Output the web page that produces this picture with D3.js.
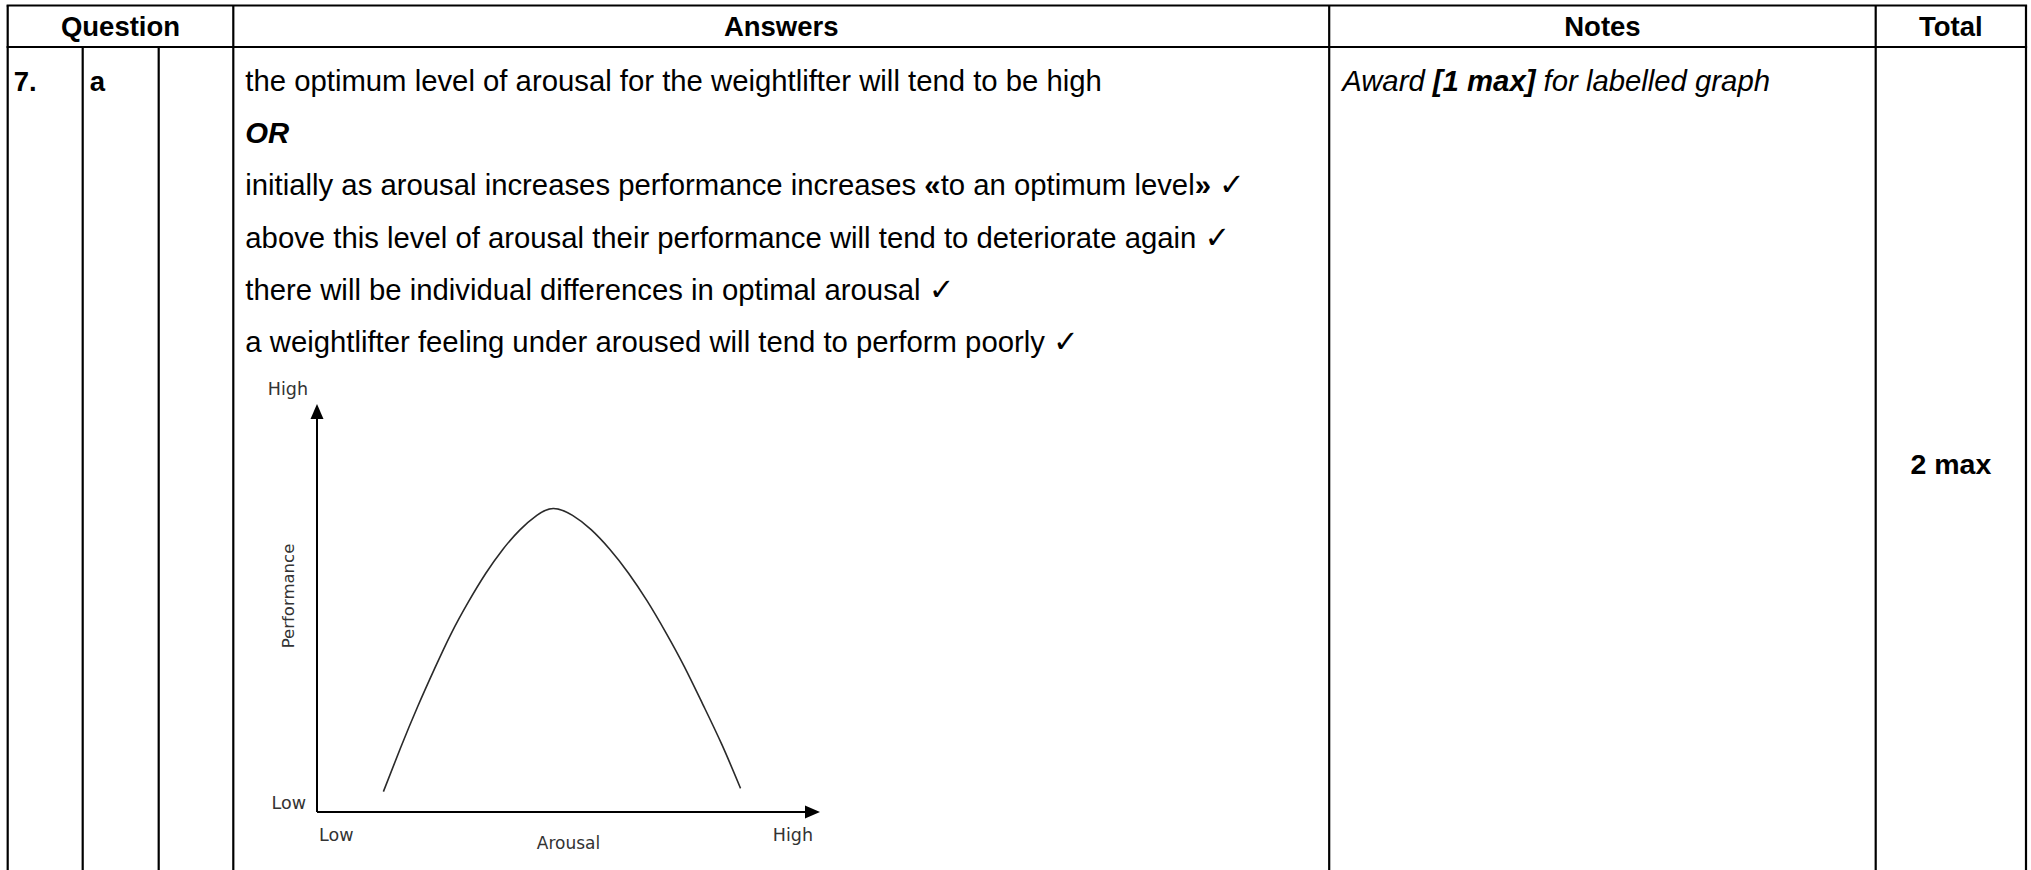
<!DOCTYPE html>
<html>
<head>
<meta charset="utf-8">
<script src="https://cdn.jsdelivr.net/npm/d3@7"></script>
<style>
    body { margin: 0; background: #fff; }
    svg { display: block; }
</style>
</head>
<body>
<script>

// table contents
const headers = ["Question", "Answers", "Notes", "Total"];
const questionNumber = "7.";
const questionPart = "a";
const answerLines = [
    "the optimum level of arousal for the weightlifter will tend to be high",
    "OR",
    "initially as arousal increases performance increases «to an optimum level» ✓",
    "above this level of arousal their performance will tend to deteriorate again ✓",
    "there will be individual differences in optimal arousal ✓",
    "a weightlifter feeling under aroused will tend to perform poorly ✓",
];
const noteText = "Award [1 max] for labelled graph";
const totalText = "2 max";

// inverted-U sketch (0..100 on both axes)
const arousal = [13.2, 16.6, 20.0, 23.4, 26.7, 30.1, 33.5, 36.9, 40.3, 43.7, 47.0,
    50.8, 54.5, 58.2, 61.9, 65.6, 69.3, 73.0, 76.7, 80.5, 84.2];
const performance = [5.0, 15.7, 25.8, 35.2, 43.8, 51.5, 58.4, 64.3, 69.1, 72.7, 74.4,
    72.7, 69.2, 64.4, 58.6, 51.8, 44.1, 35.7, 26.4, 16.5, 5.8];
const axisEnds = ["Low", "High"];
const axisTitles = ["Arousal", "Performance"];

const width = 2031;
const height = 870;

const font = "Arial, 'Liberation Sans', sans-serif";
const headSize = 27.5;
const bodySize = 29.3;

const svg = d3.select(document.body).append("svg")
    .attr("width", width)
    .attr("height", height);

svg.append("rect")
    .attr("width", width)
    .attr("height", height)
    .attr("fill", "#fff");

// column edges
const cols = {
    left: 7.7,
    q1: 82.7,
    q2: 158.7,
    answers: 233.3,
    notes: 1329.2,
    total: 1875.7,
    right: 2026,
};
const rows = {
    top: 5.5,
    header: 47,
};

const grid = svg.append("g")
    .attr("stroke", "#000")
    .attr("stroke-width", 2.2);

// horizontal rules
[rows.top, rows.header].forEach(y => {
    grid.append("line")
        .attr("x1", cols.left - 1.1).attr("x2", cols.right + 1.1)
        .attr("y1", y).attr("y2", y);
});

// vertical rules
[cols.left, cols.answers, cols.notes, cols.total, cols.right].forEach(x => {
    grid.append("line")
        .attr("x1", x).attr("x2", x)
        .attr("y1", rows.top).attr("y2", height + 2);
});
[cols.q1, cols.q2].forEach(x => {
    grid.append("line")
        .attr("x1", x).attr("x2", x)
        .attr("y1", rows.header).attr("y2", height + 2);
});

// header row
const headerCenters = [
    (cols.left + cols.answers) / 2,
    (cols.answers + cols.notes) / 2,
    (cols.notes + cols.total) / 2,
    (cols.total + cols.right) / 2,
];
svg.append("g")
    .selectAll("text")
    .data(headers)
    .join("text")
    .attr("x", (d, i) => headerCenters[i])
    .attr("y", 36)
    .attr("text-anchor", "middle")
    .attr("font-family", font)
    .attr("font-size", headSize)
    .attr("font-weight", "bold")
    .text(d => d);

const firstBaseline = 91;
const lineStep = 52.2;

// question number / part
[[questionNumber, cols.left + 6], [questionPart, cols.q1 + 7]].forEach(([t, x]) => {
    svg.append("text")
        .attr("x", x)
        .attr("y", firstBaseline)
        .attr("font-family", font)
        .attr("font-size", headSize)
        .attr("font-weight", "bold")
        .text(t);
});

// answers: «» and ticks drawn heavier, "OR" bold italic
const answers = svg.append("g")
    .attr("font-family", font)
    .attr("font-size", bodySize);

answerLines.forEach((line, i) => {
    const text = answers.append("text")
        .attr("x", cols.answers + 12)
        .attr("y", firstBaseline + i * lineStep);
    if (line === "OR") {
        text.attr("font-weight", "bold").attr("font-style", "italic").text(line);
        return;
    }
    line.split(/([«»✓])/).filter(s => s.length).forEach(part => {
        const span = text.append("tspan").text(part);
        if (part === "«" || part === "»") {
            span.attr("font-weight", "bold");
        } else if (part === "✓") {
            span.attr("font-family", "'DejaVu Sans', sans-serif")
                .attr("font-weight", "bold")
                .attr("font-size", bodySize * 1.05);
        }
    });
});

// notes: italic, bracketed part bold
const note = svg.append("text")
    .attr("x", cols.notes + 13)
    .attr("y", firstBaseline)
    .attr("font-family", font)
    .attr("font-size", bodySize)
    .attr("font-style", "italic");
noteText.split(/(\[[^\]]*\])/).filter(s => s.length).forEach(part => {
    const span = note.append("tspan").text(part);
    if (part.startsWith("[")) {
        span.attr("font-weight", "bold");
    }
});

// total
svg.append("text")
    .attr("x", (cols.total + cols.right) / 2)
    .attr("y", 474)
    .attr("text-anchor", "middle")
    .attr("font-family", font)
    .attr("font-size", 28.5)
    .attr("font-weight", "bold")
    .text(totalText);

// graph
const x = d3.scaleLinear().domain([0, 100]).range([317, 820]);
const y = d3.scaleLinear().domain([0, 100]).range([812, 404]);

const graph = svg.append("g");
const arrow = 15;
const arrowHalf = 6.5;

// axes with arrowheads
graph.append("path")
    .attr("d", `M${x(0)},${y(0)}H${x(100) - arrow}M${x(0)},${y(0)}V${y(100) + arrow}`)
    .attr("fill", "none")
    .attr("stroke", "#000")
    .attr("stroke-width", 2);
graph.append("path")
    .attr("d", `M${x(100)},${y(0)}L${x(100) - arrow},${y(0) - arrowHalf}L${x(100) - arrow},${y(0) + arrowHalf}Z`)
    .attr("fill", "#000");
graph.append("path")
    .attr("d", `M${x(0)},${y(100)}L${x(0) - arrowHalf},${y(100) + arrow}L${x(0) + arrowHalf},${y(100) + arrow}Z`)
    .attr("fill", "#000");

// curve
const line = d3.line()
    .x(d => x(d[0]))
    .y(d => y(d[1]))
    .curve(d3.curveNatural);
graph.append("path")
    .datum(d3.zip(arousal, performance))
    .attr("d", line)
    .attr("fill", "none")
    .attr("stroke", "#2a2a2a")
    .attr("stroke-width", 1.6);

// axis labels
const labelFont = "'DejaVu Sans', Verdana, sans-serif";
const labels = graph.append("g")
    .attr("font-family", labelFont)
    .attr("font-size", 17.5)
    .attr("fill", "#333");

labels.append("text").attr("x", x(0) + 2).attr("y", y(0) + 29).text(axisEnds[0]);
labels.append("text").attr("x", x(100) - 7).attr("y", y(0) + 29)
    .attr("text-anchor", "end").text(axisEnds[1]);
labels.append("text").attr("x", x(0) - 11).attr("y", y(0) - 3)
    .attr("text-anchor", "end").text(axisEnds[0]);
labels.append("text").attr("x", x(0) - 9).attr("y", y(100) - 9)
    .attr("text-anchor", "end").text(axisEnds[1]);

labels.append("text")
    .attr("x", x(50))
    .attr("y", y(0) + 37)
    .attr("text-anchor", "middle")
    .attr("font-size", 17)
    .text(axisTitles[0]);
labels.append("text")
    .attr("transform", `translate(${x(0) - 23},596) rotate(-90)`)
    .attr("text-anchor", "middle")
    .attr("font-size", 16.5)
    .text(axisTitles[1]);

</script>
</body>
</html>
